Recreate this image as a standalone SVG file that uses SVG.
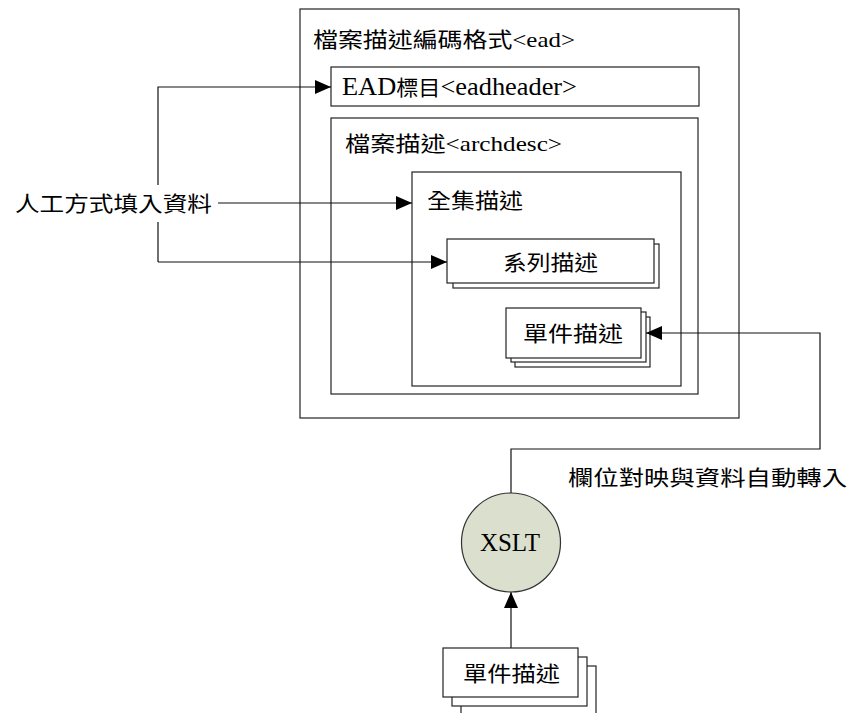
<svg xmlns="http://www.w3.org/2000/svg" width="850" height="713" viewBox="0 0 850 713">
<style>
.box{fill:none;stroke:#222;stroke-width:1.2}
.wbox{fill:#fff;stroke:#222;stroke-width:1.2}
.t{font-family:"Liberation Serif","Noto Sans CJK TC",serif;font-size:21px;fill:#000}
.lat{font-family:"Liberation Serif",serif}
.con{fill:none;stroke:#111;stroke-width:1.2}
</style>
<defs>
<marker id="ah" markerUnits="userSpaceOnUse" markerWidth="16" markerHeight="14" refX="16" refY="7" orient="auto">
<path d="M0,0 L16,7 L0,14 Z" fill="#000"/>
</marker>
</defs>
<rect width="850" height="713" fill="#fff"/>

<g id="ead">
<rect class="box" x="300" y="9" width="439" height="409"/>
<text class="t" x="313" y="47" textLength="262" lengthAdjust="spacingAndGlyphs">檔案描述編碼格式<tspan class="lat" font-size="21">&lt;ead&gt;</tspan></text>
</g>
<g id="eadheader">
<rect class="box" x="331" y="67" width="368" height="39"/>
<text class="t" x="342" y="95" textLength="235" lengthAdjust="spacingAndGlyphs"><tspan class="lat" font-size="25">EAD</tspan>標目<tspan class="lat" font-size="25">&lt;eadheader&gt;</tspan></text>
</g>
<g id="archdesc">
<rect class="box" x="331" y="118" width="367" height="276"/>
<text class="t" x="345" y="151" textLength="217" lengthAdjust="spacingAndGlyphs">檔案描述<tspan class="lat" font-size="21">&lt;archdesc&gt;</tspan></text>
</g>
<g id="collection">
<rect class="box" x="412" y="172" width="269" height="214"/>
<text class="t" x="427" y="208" textLength="96" lengthAdjust="spacingAndGlyphs">全集描述</text>
</g>
<g id="series">
<rect class="wbox" x="453" y="244" width="206" height="44"/>
<rect class="wbox" x="447" y="239" width="207" height="44"/>
<text class="t" x="503" y="270" textLength="95" lengthAdjust="spacingAndGlyphs">系列描述</text>
</g>
<g id="item">
<rect class="wbox" x="515" y="317" width="135" height="50"/>
<rect class="wbox" x="511" y="312" width="135" height="50"/>
<rect class="wbox" x="506" y="308" width="135" height="50"/>
<text class="t" x="523" y="341" textLength="100" lengthAdjust="spacingAndGlyphs">單件描述</text>
</g>

<g id="connectors">
<path class="con" d="M158,262 L158,87 L331,87" marker-end="url(#ah)"/>
<path class="con" d="M158,262 L447,262" marker-end="url(#ah)"/>
<path class="con" d="M218,203 L412,203" marker-end="url(#ah)"/>
<path class="con" d="M511,493 L511,449 L820,449 L820,333 L646,333" marker-end="url(#ah)"/>
<path class="con" d="M511,648 L511,592" marker-end="url(#ah)"/>
</g>

<g id="manual">
<rect x="11" y="185" width="206" height="37" fill="#fff"/>
<text class="t" x="15" y="211" textLength="197" lengthAdjust="spacingAndGlyphs">人工方式填入資料</text>
</g>
<g id="mapping-label">
<text class="t" x="568" y="485" textLength="279" lengthAdjust="spacingAndGlyphs">欄位對映與資料自動轉入</text>
</g>
<g id="xslt">
<circle cx="511" cy="542.5" r="49.5" fill="#dbdfcd" stroke="#333" stroke-width="1.2"/>
<text x="510" y="551" text-anchor="middle" font-family="Liberation Serif, serif" font-size="25">XSLT</text>
</g>
<g id="item-source">
<rect class="wbox" x="461" y="666" width="135" height="60"/>
<rect class="wbox" x="452" y="657" width="135" height="49"/>
<rect class="wbox" x="443" y="648" width="135" height="49"/>
<text class="t" x="463" y="681" textLength="97" lengthAdjust="spacingAndGlyphs">單件描述</text>
</g>
</svg>
